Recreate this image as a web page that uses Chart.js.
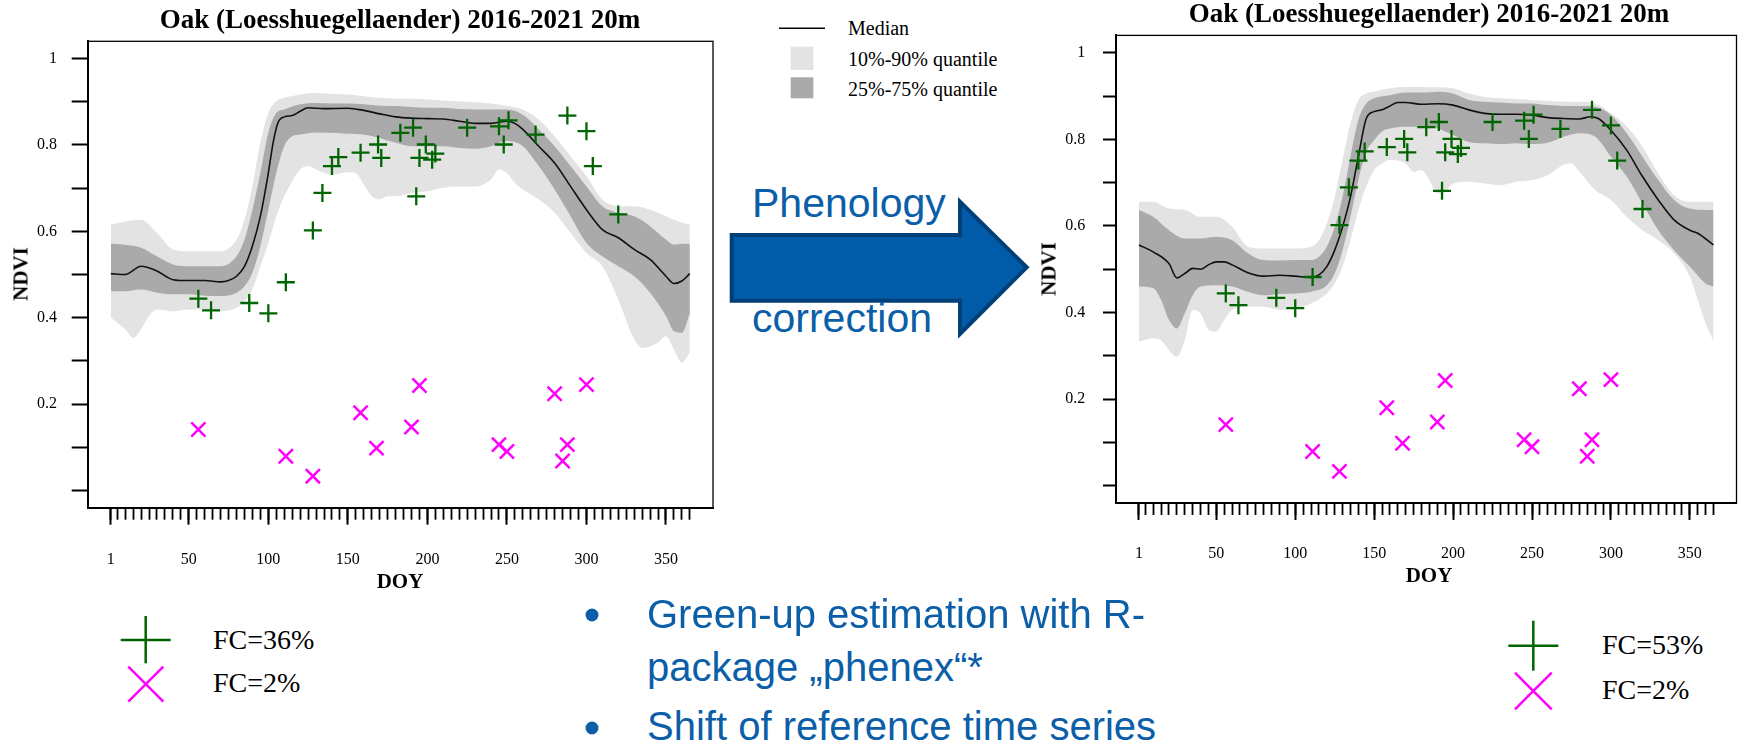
<!DOCTYPE html>
<html>
<head>
<meta charset="utf-8">
<title>Oak NDVI phenology correction</title>
<script src="https://cdn.jsdelivr.net/npm/chart.js@4.4.1/dist/chart.umd.min.js"></script>
<style>
  html, body { margin: 0; padding: 0; background: #fff; }
  #page { position: relative; width: 1749px; height: 747px; overflow: hidden; font-family: "Liberation Serif", "Times New Roman", serif; }
  canvas { position: absolute; top: 0; }
  svg { position: absolute; left: 0; top: 0; }
  .t { position: absolute; white-space: nowrap; color: #000; line-height: 1; }
  .title { font-weight: bold; font-size: 27px; transform: translate(-50%, -50%); }
  .axt { font-weight: bold; font-size: 21px; transform: translate(-50%, -50%); }
  .ndvi { transform: translate(-50%, -50%) rotate(-90deg); }
  .leg { font-size: 20px; transform: translateY(-50%); }
  .fc { font-size: 28px; transform: translateY(-50%); }
  .blue { font-family: "Liberation Sans", Arial, sans-serif; color: #0b5ea8; font-size: 40px; }
  .dot { position: absolute; width: 13px; height: 13px; border-radius: 50%; background: #0b5ea8; transform: translate(-50%, -50%); }
</style>
</head>
<body>
<div id="page">
  <svg width="1749" height="747">
    <polygon points="731.7,235 960,235 960,201.7 1026.7,267.3 960,334 960,300.7 731.7,300.7"
             fill="#005ca8" stroke="#003f78" stroke-width="4" />
    <line x1="779" y1="28.3" x2="825" y2="28.3" stroke="#000" stroke-width="1.5" />
    <rect x="790.7" y="46.7" width="22.7" height="23.3" fill="#e3e3e3" />
    <rect x="790.7" y="77.3" width="22.7" height="21" fill="#aaaaaa" />
    <g stroke="#006400" stroke-width="2.5">
      <line x1="120.7" y1="640" x2="170.7" y2="640" />
      <line x1="145.7" y1="616" x2="145.7" y2="663.3" />
      <line x1="1508.3" y1="645.7" x2="1558.3" y2="645.7" />
      <line x1="1533.3" y1="620.7" x2="1533.3" y2="670.7" />
    </g>
    <g stroke="#ff00ff" stroke-width="2.5">
      <line x1="128.3" y1="666.7" x2="163.3" y2="701.7" />
      <line x1="128.3" y1="701.7" x2="163.3" y2="666.7" />
      <line x1="1515" y1="672.7" x2="1551.7" y2="709.3" />
      <line x1="1515" y1="709.3" x2="1551.7" y2="672.7" />
    </g>
  </svg>

  <canvas id="leftChart" width="730" height="600" style="left:0px"></canvas>
  <canvas id="rightChart" width="719" height="600" style="left:1030px"></canvas>

  <div class="t title" style="left:400px; top:19px">Oak (Loesshuegellaender) 2016-2021 20m</div>
  <div class="t title" style="left:1429px; top:13px">Oak (Loesshuegellaender) 2016-2021 20m</div>
  <div class="t axt ndvi" style="left:21px; top:274px">NDVI</div>
  <div class="t axt ndvi" style="left:1049px; top:269px">NDVI</div>
  <div class="t axt" style="left:400px; top:581px">DOY</div>
  <div class="t axt" style="left:1429px; top:575px">DOY</div>

  <div class="t leg" style="left:848px; top:28px">Median</div>
  <div class="t leg" style="left:848px; top:59px">10%-90% quantile</div>
  <div class="t leg" style="left:848px; top:89px">25%-75% quantile</div>

  <div class="t blue" style="left:752px; top:183px; font-size:41px">Phenology</div>
  <div class="t blue" style="left:752px; top:298px; font-size:41px">correction</div>

  <div class="dot" style="left:592px; top:615px"></div>
  <div class="t blue" style="left:647px; top:594px">Green-up estimation with R-</div>
  <div class="t blue" style="left:647px; top:647px">package „phenex“*</div>
  <div class="dot" style="left:592px; top:728px"></div>
  <div class="t blue" style="left:647px; top:706px">Shift of reference time series</div>

  <div class="t fc" style="left:213px; top:640px">FC=36%</div>
  <div class="t fc" style="left:213px; top:683px">FC=2%</div>
  <div class="t fc" style="left:1602px; top:645px">FC=53%</div>
  <div class="t fc" style="left:1602px; top:690px">FC=2%</div>
</div>

<script>
// axis ticks
const doyMajor = [1, 50, 100, 150, 200, 250, 300, 350];
const doyMinor = [1, 5, 10, 15, 20, 25, 30, 35, 40, 45, 50, 55, 60, 65, 70, 75, 80, 85, 90, 95,
  100, 105, 110, 115, 120, 125, 130, 135, 140, 145, 150, 155, 160, 165, 170, 175, 180, 185, 190, 195,
  200, 205, 210, 215, 220, 225, 230, 235, 240, 245, 250, 255, 260, 265, 270, 275, 280, 285, 290, 295,
  300, 305, 310, 315, 320, 325, 330, 335, 340, 345, 350, 355, 360, 365];
const ndviTicks = [0, 0.1, 0.2, 0.3, 0.4, 0.5, 0.6, 0.7, 0.8, 0.9, 1];
const ndviLabels = [0.2, 0.4, 0.6, 0.8, 1];

// observations (same in both panels)
const greenDoy = [56, 64, 88, 100, 111, 128, 134, 140, 144, 158, 169, 171, 183, 191, 193, 195, 199, 203, 205, 225, 245, 248, 251, 268, 288, 300, 304, 320];
const greenNdvi = [0.444, 0.417, 0.434, 0.410, 0.482, 0.602, 0.689, 0.751, 0.772, 0.782, 0.801, 0.770, 0.828, 0.840, 0.681, 0.770, 0.801, 0.766, 0.780, 0.840, 0.843, 0.801, 0.857, 0.824, 0.868, 0.832, 0.751, 0.639];
const magentaDoy = [56, 111, 128, 158, 168, 190, 195, 245, 250, 280, 285, 288, 300];
const magentaNdvi = [0.141, 0.079, 0.033, 0.180, 0.098, 0.147, 0.243, 0.106, 0.090, 0.224, 0.068, 0.106, 0.245];

// reference curves before correction: [DOY, NDVI]
const leftMedian = [[1,0.502],[10,0.500],[20,0.519],[30,0.508],[40,0.488],[50,0.486],[60,0.486],[70,0.483],[75,0.486],[80,0.496],[85,0.519],[90,0.566],[95,0.635],[100,0.735],[103,0.805],[106,0.851],[110,0.865],[115,0.868],[120,0.878],[125,0.886],[135,0.884],[150,0.885],[160,0.880],[170,0.872],[180,0.865],[190,0.862],[200,0.861],[210,0.860],[220,0.855],[230,0.850],[240,0.850],[250,0.855],[255,0.850],[260,0.836],[270,0.797],[280,0.758],[290,0.704],[300,0.650],[310,0.604],[320,0.585],[330,0.558],[340,0.535],[350,0.496],[355,0.479],[360,0.485],[365,0.502]];
const leftQ25 = [[1,0.461],[10,0.461],[20,0.465],[30,0.458],[40,0.454],[50,0.454],[60,0.451],[70,0.450],[80,0.458],[85,0.473],[90,0.504],[95,0.566],[100,0.650],[105,0.735],[110,0.797],[115,0.820],[120,0.824],[130,0.829],[140,0.828],[150,0.826],[160,0.824],[170,0.816],[180,0.805],[190,0.797],[200,0.797],[210,0.797],[220,0.793],[230,0.791],[240,0.797],[250,0.809],[260,0.797],[270,0.751],[280,0.697],[290,0.635],[300,0.573],[310,0.542],[320,0.519],[330,0.496],[340,0.458],[350,0.404],[355,0.369],[360,0.365],[365,0.410]];
const leftQ75 = [[1,0.571],[10,0.569],[20,0.562],[30,0.542],[40,0.523],[50,0.519],[60,0.519],[70,0.519],[80,0.542],[85,0.581],[90,0.650],[95,0.735],[100,0.828],[105,0.874],[110,0.882],[120,0.894],[130,0.897],[140,0.896],[150,0.896],[160,0.894],[170,0.891],[180,0.890],[190,0.888],[200,0.886],[210,0.886],[220,0.883],[230,0.882],[240,0.882],[250,0.882],[260,0.870],[270,0.836],[280,0.797],[290,0.751],[300,0.704],[310,0.658],[320,0.643],[330,0.635],[340,0.612],[350,0.581],[355,0.569],[360,0.571],[365,0.571]];
const leftQ10 = [[1,0.400],[10,0.373],[15,0.353],[20,0.373],[25,0.404],[30,0.419],[40,0.415],[50,0.419],[60,0.419],[70,0.415],[80,0.423],[85,0.438],[90,0.465],[95,0.519],[100,0.573],[105,0.635],[110,0.681],[115,0.716],[120,0.743],[125,0.751],[130,0.743],[140,0.731],[150,0.737],[155,0.735],[160,0.708],[165,0.681],[170,0.674],[175,0.681],[180,0.681],[190,0.689],[200,0.693],[210,0.701],[220,0.704],[230,0.704],[240,0.720],[245,0.743],[250,0.735],[255,0.712],[260,0.697],[270,0.674],[280,0.643],[290,0.596],[300,0.550],[310,0.519],[320,0.442],[330,0.350],[335,0.330],[340,0.334],[345,0.342],[350,0.357],[355,0.326],[360,0.296],[365,0.320]];
const leftQ90 = [[1,0.616],[10,0.623],[20,0.627],[30,0.596],[40,0.558],[50,0.554],[60,0.554],[70,0.554],[80,0.581],[85,0.627],[90,0.704],[95,0.805],[100,0.874],[105,0.901],[110,0.909],[120,0.917],[130,0.920],[140,0.918],[150,0.917],[160,0.913],[170,0.909],[180,0.907],[190,0.907],[200,0.905],[210,0.903],[220,0.901],[230,0.899],[240,0.896],[250,0.891],[260,0.882],[270,0.859],[280,0.820],[290,0.774],[300,0.728],[310,0.674],[320,0.658],[330,0.658],[340,0.650],[350,0.635],[360,0.620],[365,0.616]];

// reference curves after phenology correction: [DOY, NDVI]
const rightMedian = [[1,0.556],[10,0.540],[20,0.513],[25,0.480],[30,0.490],[35,0.502],[40,0.500],[45,0.510],[50,0.517],[55,0.517],[60,0.510],[70,0.492],[80,0.484],[90,0.486],[100,0.484],[110,0.481],[115,0.487],[120,0.506],[125,0.544],[130,0.598],[135,0.667],[140,0.760],[145,0.848],[150,0.864],[155,0.868],[160,0.877],[165,0.885],[170,0.885],[180,0.881],[190,0.882],[200,0.879],[210,0.868],[220,0.860],[230,0.858],[240,0.858],[250,0.856],[260,0.850],[270,0.848],[280,0.847],[287,0.852],[292,0.848],[300,0.821],[310,0.775],[320,0.714],[330,0.660],[340,0.614],[350,0.590],[355,0.583],[365,0.556]];
const rightQ25 = [[1,0.460],[10,0.456],[15,0.429],[20,0.383],[25,0.363],[30,0.398],[35,0.440],[40,0.460],[50,0.463],[60,0.460],[70,0.448],[80,0.440],[90,0.443],[100,0.444],[110,0.448],[120,0.463],[125,0.490],[130,0.544],[135,0.621],[140,0.706],[145,0.771],[150,0.798],[155,0.818],[160,0.825],[170,0.829],[180,0.829],[190,0.825],[200,0.810],[210,0.794],[220,0.791],[230,0.789],[240,0.791],[250,0.789],[260,0.792],[270,0.806],[280,0.814],[290,0.806],[300,0.760],[310,0.714],[320,0.652],[330,0.590],[340,0.544],[350,0.506],[360,0.467],[365,0.460]];
const rightQ75 = [[1,0.637],[10,0.621],[20,0.590],[30,0.571],[40,0.571],[50,0.575],[60,0.567],[70,0.537],[80,0.521],[90,0.520],[100,0.521],[110,0.521],[115,0.529],[120,0.552],[125,0.598],[130,0.667],[135,0.760],[140,0.845],[145,0.883],[150,0.895],[160,0.902],[170,0.908],[180,0.908],[190,0.910],[200,0.906],[210,0.891],[220,0.887],[230,0.885],[240,0.883],[250,0.883],[260,0.879],[270,0.877],[280,0.877],[290,0.875],[300,0.856],[310,0.814],[320,0.760],[330,0.706],[340,0.660],[350,0.640],[360,0.637],[365,0.637]];
const rightQ10 = [[1,0.333],[10,0.340],[15,0.336],[20,0.313],[25,0.298],[30,0.336],[35,0.406],[40,0.398],[45,0.360],[50,0.356],[55,0.383],[60,0.406],[70,0.413],[80,0.413],[90,0.406],[100,0.410],[110,0.421],[120,0.444],[125,0.467],[130,0.506],[135,0.567],[140,0.637],[145,0.691],[150,0.729],[155,0.744],[160,0.752],[170,0.744],[175,0.725],[180,0.729],[185,0.706],[190,0.675],[195,0.679],[200,0.698],[210,0.702],[220,0.698],[230,0.694],[240,0.702],[250,0.706],[260,0.717],[270,0.741],[275,0.744],[280,0.725],[290,0.683],[300,0.660],[310,0.621],[320,0.590],[330,0.567],[340,0.537],[350,0.483],[355,0.429],[360,0.375],[365,0.333]];
const rightQ90 = [[1,0.656],[10,0.656],[20,0.640],[30,0.637],[40,0.621],[50,0.621],[60,0.598],[70,0.552],[80,0.548],[90,0.548],[100,0.548],[110,0.552],[115,0.567],[120,0.606],[125,0.667],[130,0.752],[135,0.837],[140,0.891],[145,0.906],[150,0.910],[160,0.918],[170,0.921],[180,0.921],[190,0.920],[200,0.918],[210,0.906],[220,0.898],[230,0.895],[240,0.893],[250,0.891],[260,0.889],[270,0.887],[280,0.887],[290,0.883],[300,0.860],[310,0.830],[320,0.783],[330,0.721],[340,0.671],[350,0.656],[360,0.656],[365,0.656]];

const GREEN = "#006400";
const MAGENTA = "#ff00ff";
const LIGHT = "#e3e3e3";
const DARK = "#aaaaaa";

Chart.defaults.font.family = "'Liberation Serif', 'Times New Roman', serif";
Chart.defaults.font.size = 16;
Chart.defaults.color = "#000";

const boxFrame = {
  id: "boxFrame",
  afterDraw(chart) {
    const { ctx, chartArea: a } = chart;
    ctx.save();
    ctx.strokeStyle = "#000";
    ctx.lineWidth = 1.3;
    ctx.strokeRect(a.left, a.top, a.right - a.left, a.bottom - a.top);
    ctx.restore();
  }
};

function toXY(pairs) {
  return pairs.map(p => ({ x: p[0], y: p[1] }));
}

function band(pairs, color, fill) {
  return {
    data: toXY(pairs), showLine: true, pointRadius: 0, borderWidth: 1,
    borderColor: "rgba(0,0,0,0)", backgroundColor: color, fill: fill,
    cubicInterpolationMode: "monotone"
  };
}

function makeChart(id, box, curves) {
  const ctx = document.getElementById(id).getContext("2d");
  return new Chart(ctx, {
    type: "scatter",
    data: {
      datasets: [
        { label: "FC green", data: greenDoy.map((d, i) => ({ x: d, y: greenNdvi[i] })),
          pointStyle: "cross", pointRadius: 9, borderColor: GREEN, borderWidth: 2.3 },
        { label: "FC magenta", data: magentaDoy.map((d, i) => ({ x: d, y: magentaNdvi[i] })),
          pointStyle: "crossRot", pointRadius: 10, borderColor: MAGENTA, borderWidth: 2.5 },
        { label: "Median", data: toXY(curves.median), showLine: true, pointRadius: 0,
          borderColor: "#111", borderWidth: 1.6, cubicInterpolationMode: "monotone" },
        band(curves.q75, DARK, "+1"),
        band(curves.q25, DARK, false),
        band(curves.q90, LIGHT, "+1"),
        band(curves.q10, LIGHT, false)
      ]
    },
    options: {
      responsive: false,
      animation: false,
      devicePixelRatio: 1,
      layout: { padding: { top: box.top, right: box.right, left: 0, bottom: 0 } },
      plugins: { legend: { display: false }, tooltip: { enabled: false } },
      scales: {
        x: {
          type: "linear", position: "bottom", min: -13.56, max: 379.56, weight: 1,
          afterBuildTicks: s => { s.ticks = doyMajor.map(v => ({ value: v })); },
          afterFit: s => { s.height = box.xAxisH; },
          grid: { drawOnChartArea: false, tickLength: 17, tickWidth: 2, tickColor: "#000" },
          border: { display: true, color: "#000", width: 2 },
          ticks: { padding: box.xPad, maxRotation: 0, autoSkip: false }
        },
        xMinor: {
          type: "linear", position: "bottom", min: -13.56, max: 379.56, weight: 0,
          afterBuildTicks: s => { s.ticks = doyMinor.map(v => ({ value: v })); },
          afterFit: s => { s.height = 0; },
          grid: { drawOnChartArea: false, tickLength: 12, tickWidth: 1.8, tickColor: "#000" },
          border: { display: false },
          ticks: { display: false }
        },
        y: {
          type: "linear", min: -0.04, max: 1.04,
          afterBuildTicks: s => { s.ticks = ndviTicks.map(v => ({ value: v })); },
          afterFit: s => { s.width = box.yAxisW; },
          grid: { drawOnChartArea: false, tickLength: box.yTick, tickWidth: 2, tickColor: "#000" },
          border: { display: true, color: "#000", width: 2 },
          ticks: { padding: box.yPad, autoSkip: false,
                   callback: v => ndviLabels.includes(v) ? String(v) : "" }
        }
      }
    },
    plugins: [boxFrame]
  });
}

makeChart("leftChart",
  { top: 41.3, right: 17, yAxisW: 87.7, xAxisH: 92.3, xPad: 25, yTick: 16, yPad: 14.7 },
  { median: leftMedian, q25: leftQ25, q75: leftQ75, q10: leftQ10, q90: leftQ90 });

makeChart("rightChart",
  { top: 35.4, right: 7, yAxisW: 86, xAxisH: 97, xPad: 24.4, yTick: 13, yPad: 17.8 },
  { median: rightMedian, q25: rightQ25, q75: rightQ75, q10: rightQ10, q90: rightQ90 });
</script>
</body>
</html>
